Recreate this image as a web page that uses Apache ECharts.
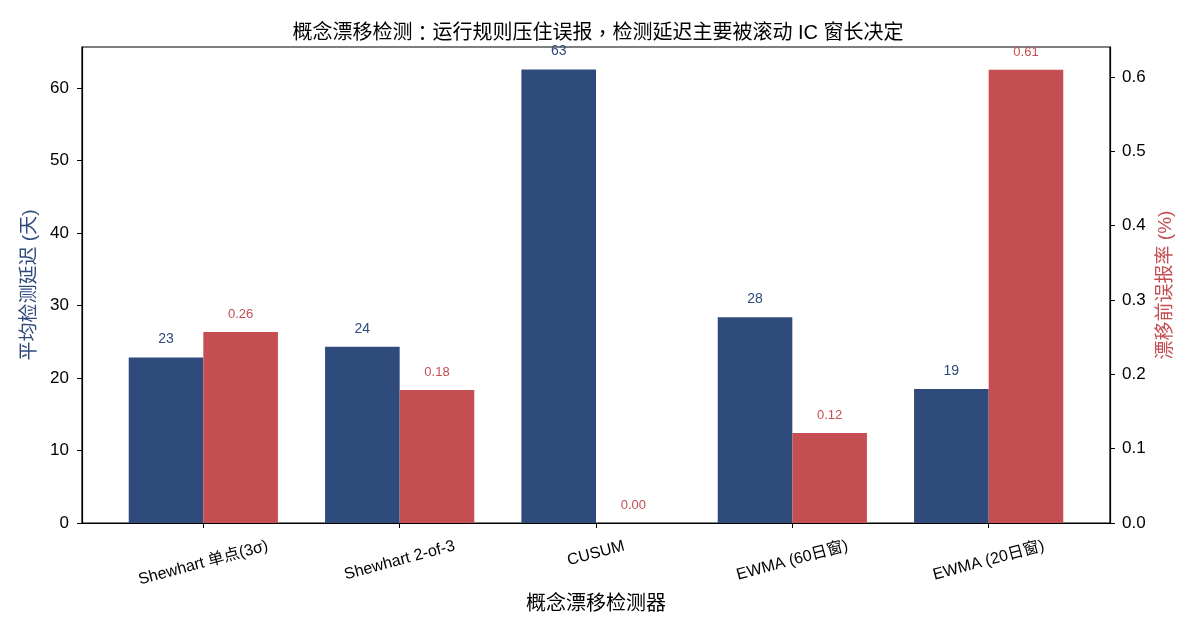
<!DOCTYPE html>
<html>
<head>
<meta charset="utf-8">
<script src="https://cdn.jsdelivr.net/npm/echarts@6/dist/echarts.min.js"></script>
<style>
  html, body { margin: 0; padding: 0; background: #fff; }
  #chart { width: 1196px; height: 637px; }
</style>
</head>
<body>
<div id="chart"></div>
<script>
// detectors on the x axis
const detectors = ['Shewhart 单点(3σ)', 'Shewhart 2-of-3', 'CUSUM', 'EWMA (60日窗)', 'EWMA (20日窗)']
// mean detection delay (days), left axis
const delayDays = [22.85, 24.33, 62.6, 28.4, 18.5]
// false alarm rate before drift (%), right axis
const falseAlarm = [0.257, 0.179, 0.0, 0.121, 0.61]
const leftTicks = [0, 10, 20, 30, 40, 50, 60]
const rightTicks = [0, 0.1, 0.2, 0.3, 0.4, 0.5, 0.6]

const blue = '#2f4b7c'
const red = '#c44e52'
const font = "'Liberation Sans', 'Noto Sans CJK SC', sans-serif"
const catFontSize = 16

// rotated tick labels: keep the top of each rotated box on one line (like matplotlib)
let ctx = document.createElement('canvas').getContext('2d')
ctx.font = catFontSize + "px 'Liberation Sans', 'Noto Sans CJK SC'"
const tan15 = Math.tan(15 * Math.PI / 180)
let catRich = {}
detectors.forEach(function (d, i) {
  let w = ctx.measureText(d).width
  let h = catFontSize
  let pr = (w * tan15 * tan15 + h * tan15) / (1 + tan15 * tan15)
  let pt = (w - pr) * tan15 / 2
  catRich['c' + i] = {
    fontSize: catFontSize,
    color: '#000',
    padding: [pt, pr, 0, 0]
  }
})

let chart = echarts.init(document.getElementById('chart'))

let option = {
  animation: false,
  textStyle: { fontFamily: font },
  title: {
    text: '概念漂移检测{p|：}运行规则压住误报{p|，}检测延迟主要被滚动 IC 窗长决定',
    left: 'center',
    top: 18,
    textStyle: {
      fontSize: 20,
      fontWeight: 'normal',
      color: '#000',
      fontFamily: font,
      rich: {
        p: { fontSize: 20, color: '#000', fontFamily: "'Noto Sans CJK TC'" }
      }
    }
  },
  grid: {
    left: 82,
    right: 86,
    top: 47,
    bottom: 114,
    show: true,
    borderColor: '#000',
    borderWidth: 1.2
  },
  xAxis: {
    type: 'value',
    min: -0.618,
    max: 4.618,
    name: '概念漂移检测器',
    nameLocation: 'middle',
    nameGap: 71,
    nameTextStyle: { fontSize: 20, color: '#000' },
    splitLine: { show: false },
    axisLine: { onZero: false, lineStyle: { color: '#000', width: 1.2 } },
    axisTick: { show: true, length: 5, customValues: [0, 1, 2, 3, 4], lineStyle: { color: '#000' } },
    axisLabel: {
      customValues: [0, 1, 2, 3, 4],
      rotate: 15,
      align: 'center',
      verticalAlign: 'top',
      margin: 15,
      fontSize: catFontSize,
      color: '#000',
      rich: catRich,
      formatter: function (v) {
        let i = Math.round(v)
        return '{c' + i + '|' + detectors[i] + '}'
      }
    }
  },
  yAxis: [
    {
      type: 'value',
      position: 'left',
      min: 0,
      max: 65.7,
      interval: 10,
      name: '平均检测延迟 (天)',
      nameLocation: 'middle',
      nameRotate: 90,
      nameGap: 42,
      nameTextStyle: { fontSize: 19, color: blue },
      splitLine: { show: false },
      axisLine: { show: true, onZero: false, lineStyle: { color: '#000', width: 1.2 } },
      axisTick: { show: true, length: 5, lineStyle: { color: '#000' } },
      axisLabel: {
        fontSize: 17,
        color: '#000',
        margin: 13,
        showMaxLabel: false,
        formatter: function (v) {
          return leftTicks.indexOf(v) >= 0 ? String(v) : ''
        }
      }
    },
    {
      type: 'value',
      position: 'right',
      min: 0,
      max: 0.6405,
      interval: 0.1,
      name: '漂移前误报率 (%)',
      nameLocation: 'middle',
      nameRotate: 90,
      nameGap: 45,
      nameTextStyle: { fontSize: 19, color: red },
      splitLine: { show: false },
      axisLine: { show: true, onZero: false, lineStyle: { color: '#000', width: 1.2 } },
      axisTick: { show: true, length: 5, lineStyle: { color: '#000' } },
      axisLabel: {
        fontSize: 17,
        color: '#000',
        margin: 12,
        showMaxLabel: false,
        formatter: function (v) {
          let hit = rightTicks.some(function (t) { return Math.abs(t - v) < 1e-9 })
          return hit ? v.toFixed(1) : ''
        }
      }
    }
  ],
  series: [
    {
      name: '平均检测延迟',
      type: 'bar',
      yAxisIndex: 0,
      barWidth: '38%',
      barGap: '0%',
      itemStyle: { color: blue },
      data: delayDays.map(function (v, i) { return [i, v] }),
      label: {
        show: true,
        position: 'top',
        distance: 11,
        fontSize: 14,
        color: blue,
        formatter: function (p) { return p.value[1].toFixed(0) }
      }
    },
    {
      name: '漂移前误报率',
      type: 'bar',
      yAxisIndex: 1,
      barWidth: '38%',
      barGap: '0%',
      itemStyle: { color: red },
      data: falseAlarm.map(function (v, i) { return [i, v] }),
      label: {
        show: true,
        position: 'top',
        distance: 11,
        fontSize: 13,
        color: red,
        formatter: function (p) { return p.value[1].toFixed(2) }
      }
    }
  ]
}

chart.setOption(option)
</script>
</body>
</html>
